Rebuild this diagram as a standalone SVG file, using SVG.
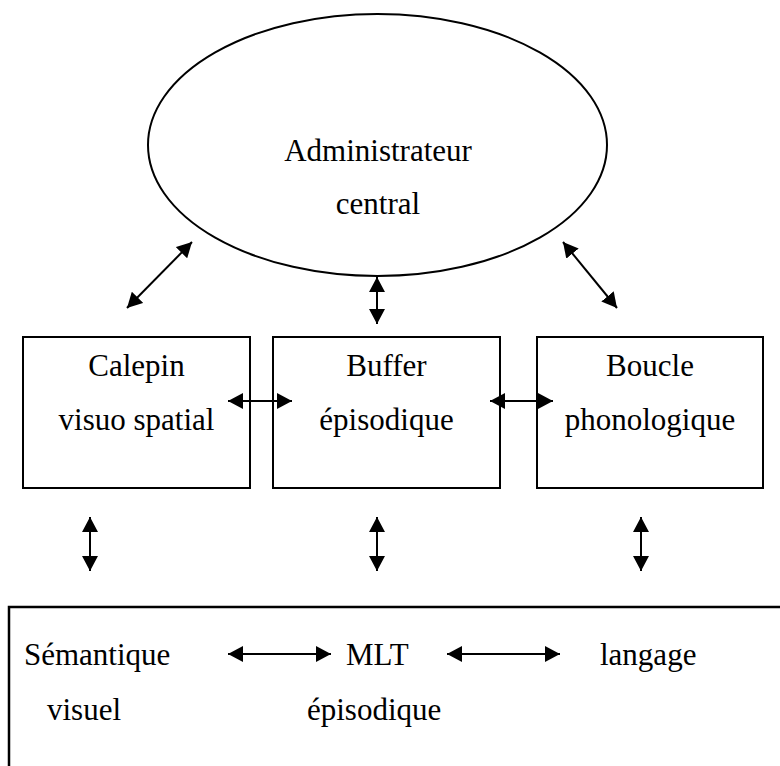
<svg xmlns="http://www.w3.org/2000/svg" width="780" height="766" viewBox="0 0 780 766">
<defs>
<marker id="ah" viewBox="0 0 15 16" refX="15" refY="8" markerUnits="userSpaceOnUse" markerWidth="15" markerHeight="16" orient="auto-start-reverse">
<path d="M0,0 L15,8 L0,16 z" fill="#000"/>
</marker>
<style>
.box{fill:#fff;stroke:#000;stroke-width:2}
.t{font-family:"Liberation Serif","Times New Roman",serif;font-size:31px;fill:#000}
.m{text-anchor:middle}
.c{stroke:#000;stroke-width:2;fill:none;marker-start:url(#ah);marker-end:url(#ah)}
</style>
</defs>
<rect width="780" height="766" fill="#fff"/>
<g id="admin">
<ellipse class="box" cx="377.5" cy="145" rx="229.5" ry="131"/>
<text class="t m" x="378" y="161">Administrateur</text>
<text class="t m" x="378" y="214">central</text>
</g>
<g id="calepin">
<rect class="box" x="23" y="337" width="227" height="151"/>
<text class="t m" x="136.5" y="376">Calepin</text>
<text class="t m" x="136.5" y="430">visuo spatial</text>
</g>
<g id="buffer">
<rect class="box" x="273" y="337" width="227" height="151"/>
<text class="t m" x="386.5" y="376">Buffer</text>
<text class="t m" x="386.5" y="430">épisodique</text>
</g>
<g id="boucle">
<rect class="box" x="537" y="337" width="226" height="151"/>
<text class="t m" x="650" y="376">Boucle</text>
<text class="t m" x="650" y="430">phonologique</text>
</g>
<g id="mlt">
<rect class="box" x="9" y="607" width="790" height="180" style="stroke-width:2.5"/>
<text class="t" x="24" y="665">Sémantique</text>
<text class="t" x="47" y="720">visuel</text>
<text class="t" x="346" y="665">MLT</text>
<text class="t" x="307" y="720">épisodique</text>
<text class="t" x="600" y="665">langage</text>
</g>
<g id="connectors">
<line class="c" x1="127" y1="308" x2="192" y2="242"/>
<line class="c" x1="377" y1="277" x2="377" y2="324"/>
<line class="c" x1="563" y1="242" x2="617" y2="308"/>
<line class="c" x1="228" y1="401" x2="292" y2="401"/>
<line class="c" x1="490" y1="401" x2="553" y2="401"/>
<line class="c" x1="90" y1="517" x2="90" y2="571"/>
<line class="c" x1="377" y1="517" x2="377" y2="571"/>
<line class="c" x1="641" y1="517" x2="641" y2="571"/>
<line class="c" x1="228" y1="654" x2="331" y2="654"/>
<line class="c" x1="447" y1="654" x2="560" y2="654"/>
</g>
</svg>
